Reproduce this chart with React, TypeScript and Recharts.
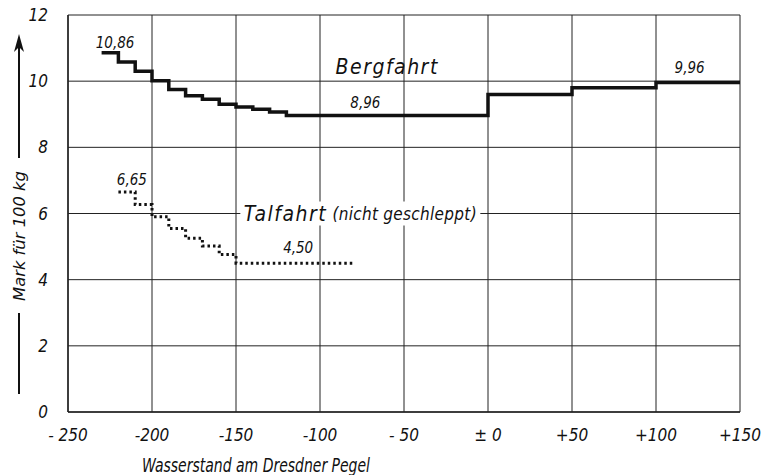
import React from 'react';
import { LineChart, Line, XAxis, YAxis, CartesianGrid, ReferenceDot, Label } from 'recharts';

const bergX = [-230, -220, -210, -200, -190, -180, -170, -160, -150, -140, -130, -120, 0, 50, 100, 150];
const bergY = [10.86, 10.58, 10.3, 10.01, 9.75, 9.56, 9.45, 9.3, 9.22, 9.15, 9.07, 8.96, 9.6, 9.8, 9.96, 9.96];
const talX = [-220, -210, -200, -190, -180, -170, -160, -150, -80];
const talY = [6.65, 6.27, 5.9, 5.55, 5.25, 5.02, 4.76, 4.5, 4.5];

const xTicks = [-250, -200, -150, -100, -50, 0, 50, 100, 150];
const xTickLabels = ['- 250', '-200', '-150', '-100', '- 50', '± 0', '+50', '+100', '+150'];
const yTicks = [0, 2, 4, 6, 8, 10, 12];

const valueNotes = [
  { x: -222, y: 11.16, text: '10,86' },
  { x: -73, y: 9.33, text: '8,96' },
  { x: 120, y: 10.4, text: '9,96' },
  { x: -212, y: 7.0, text: '6,65' },
  { x: -113, y: 4.95, text: '4,50' },
];
const seriesNotes = [
  { x: -60, y: 10.42, main: 'Bergfahrt', sub: '' },
  { x: -76, y: 6.0, main: 'Talfahrt', sub: ' (nicht geschleppt)' },
];

const bergData = bergX.map((x, i) => ({ x, y: bergY[i] }));
const talData = talX.map((x, i) => ({ x, y: talY[i] }));

const FONT = "'DejaVu Sans Condensed', 'Liberation Sans Narrow', 'DejaVu Sans', sans-serif";

export default function App() {
  return (
    <div style={{ position: 'absolute', left: 0, top: 0, background: '#fff' }}>
      <LineChart width={762} height={475} margin={{ top: 15, right: 22, left: 0, bottom: 0 }}>
        <CartesianGrid stroke="#222" strokeWidth={1} />
        <XAxis
          type="number"
          dataKey="x"
          domain={[-250, 150]}
          ticks={xTicks}
          height={63}
          tickLine={false}
          axisLine={{ stroke: '#222', strokeWidth: 1.5 }}
          tickMargin={11}
          tickFormatter={(v: number) => xTickLabels[xTicks.indexOf(v)] ?? String(v)}
          tick={{ fill: '#111', fontSize: 17, fontStyle: 'italic', fontFamily: FONT }}
          allowDataOverflow
        >
          <Label
            content={() => (
              <text x={256} y={472} textAnchor="middle" fill="#111" fontSize={19} fontStyle="italic" fontFamily={FONT} textLength={228} lengthAdjust="spacingAndGlyphs">
                Wasserstand am Dresdner Pegel
              </text>
            )}
          />
        </XAxis>
        <YAxis
          type="number"
          domain={[0, 12]}
          ticks={yTicks}
          width={68}
          tickLine={false}
          axisLine={{ stroke: '#222', strokeWidth: 1.5 }}
          tickMargin={14}
          tick={{ fill: '#111', fontSize: 17, fontStyle: 'italic', fontFamily: FONT }}
        >
          <Label
            content={() => (
              <g>
                <line x1={19} y1={38} x2={19} y2={158} stroke="#111" strokeWidth={2} />
                <path d="M19,34 L14,52 L19,47 L24,52 Z" fill="#111" />
                <text
                  x={19}
                  y={236}
                  transform="rotate(-90 19 236)"
                  textAnchor="middle"
                  dominantBaseline="central"
                  fill="#111"
                  fontSize={16}
                  fontStyle="italic"
                  fontFamily={FONT}
                  textLength={130}
                  lengthAdjust="spacingAndGlyphs"
                >
                  Mark für 100 kg
                </text>
                <line x1={19} y1={313} x2={19} y2={394} stroke="#111" strokeWidth={2} />
              </g>
            )}
          />
        </YAxis>
        <Line
          data={bergData}
          dataKey="y"
          type="stepAfter"
          stroke="#111"
          strokeWidth={3.5}
          dot={false}
          isAnimationActive={false}
        />
        <Line
          data={talData}
          dataKey="y"
          type="stepAfter"
          stroke="#111"
          strokeWidth={3}
          strokeDasharray="2.5 3"
          dot={false}
          isAnimationActive={false}
        />
        {seriesNotes.map((n) => (
          <ReferenceDot
            key={n.main}
            x={n.x}
            y={n.y}
            r={0}
            ifOverflow="visible"
            shape={(p: any) => (
              <g>
                {n.sub ? (
                  <rect x={p.cx - 120} y={p.cy - 12} width={240} height={24} fill="#fff" />
                ) : null}
                <text
                  x={p.cx}
                  y={p.cy}
                  textAnchor="middle"
                  dominantBaseline="central"
                  fill="#111"
                  fontSize={21}
                  fontStyle="italic"
                  fontFamily={FONT}
                  letterSpacing={1.5}
                >
                  {n.main}
                  {n.sub ? (
                    <tspan fontSize={17} letterSpacing={0.3}>
                      {n.sub}
                    </tspan>
                  ) : null}
                </text>
              </g>
            )}
          />
        ))}
        {valueNotes.map((n) => (
          <ReferenceDot
            key={n.text}
            x={n.x}
            y={n.y}
            r={0}
            ifOverflow="visible"
            shape={(p: any) => (
              <text
                x={p.cx}
                y={p.cy}
                textAnchor="middle"
                dominantBaseline="central"
                fill="#111"
                fontSize={15}
                fontStyle="italic"
                fontFamily={FONT}
              >
                {n.text}
              </text>
            )}
          />
        ))}
      </LineChart>
    </div>
  );
}
